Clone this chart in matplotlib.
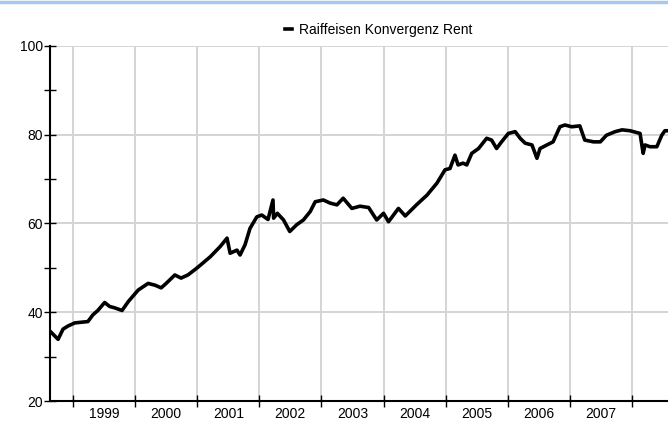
import numpy as np
import matplotlib
matplotlib.use("Agg")
import matplotlib.pyplot as plt
from matplotlib.lines import Line2D

plt.rcParams['font.family'] = ['Liberation Sans', 'DejaVu Sans']

# time as decimal years
years = [1998.64, 1998.76, 1998.84, 1998.92, 1999.03, 1999.24, 1999.32, 1999.40,
         1999.51, 1999.59, 1999.67, 1999.79, 1999.89, 2000.05, 2000.21, 2000.32,
         2000.42, 2000.50, 2000.64, 2000.74, 2000.85, 2000.99, 2001.05, 2001.21,
         2001.37, 2001.48, 2001.53, 2001.64, 2001.69, 2001.77, 2001.85, 2001.96,
         2002.04, 2002.14, 2002.22, 2002.23, 2002.29, 2002.39, 2002.49, 2002.60,
         2002.71, 2002.82, 2002.90, 2003.03, 2003.14, 2003.25, 2003.35, 2003.49,
         2003.62, 2003.76, 2003.89, 2004.00, 2004.08, 2004.24, 2004.35, 2004.53,
         2004.70, 2004.86, 2004.99, 2005.07, 2005.15, 2005.20, 2005.28, 2005.34,
         2005.42, 2005.53, 2005.66, 2005.74, 2005.82, 2005.90, 2006.01, 2006.12,
         2006.20, 2006.28, 2006.39, 2006.47, 2006.52, 2006.63, 2006.73, 2006.84,
         2006.92, 2007.03, 2007.16, 2007.24, 2007.38, 2007.49, 2007.59, 2007.73,
         2007.84, 2007.97, 2008.13, 2008.18, 2008.21, 2008.29, 2008.40, 2008.48,
         2008.53, 2008.58]
values = [35.6, 33.9, 36.2, 36.9, 37.6, 37.9, 39.4, 40.4,
          42.2, 41.3, 41.0, 40.4, 42.4, 45.0, 46.5, 46.1,
          45.5, 46.5, 48.4, 47.7, 48.4, 49.9, 50.6, 52.5,
          54.8, 56.7, 53.3, 54.0, 52.9, 55.2, 58.9, 61.5,
          61.9, 60.9, 65.3, 61.2, 62.3, 60.8, 58.2, 59.7,
          60.8, 62.7, 64.9, 65.3, 64.6, 64.2, 65.7, 63.4,
          63.9, 63.6, 60.8, 62.3, 60.4, 63.4, 61.7, 64.2,
          66.4, 69.1, 72.1, 72.4, 75.4, 73.2, 73.6, 73.2,
          75.8, 76.9, 79.2, 78.8, 76.9, 78.4, 80.3, 80.7,
          79.2, 78.1, 77.7, 74.7, 76.9, 77.7, 78.4, 81.8,
          82.2, 81.8, 82.0, 78.8, 78.4, 78.4, 79.9, 80.7,
          81.1, 80.9, 80.3, 75.8, 77.7, 77.3, 77.3, 79.9,
          80.9, 80.9]
series_name = "Raiffeisen Konvergenz Rent"
year_labels = [1999, 2000, 2001, 2002, 2003, 2004, 2005, 2006, 2007]

fig = plt.figure(figsize=(6.68, 4.23), dpi=100)
ax = fig.add_axes([50 / 668, 1 - 401 / 423, 1 - 50 / 668, (401 - 46) / 423])

ax.plot(years, values, color="black", lw=2.6, label=series_name, zorder=3)

ax.set_xlim(1998.63, 2008.58)
ax.set_ylim(20, 100)

# year boundaries get ticks and gridlines, labels sit in the middle of each year
ax.set_xticks(np.arange(1999, 2009))
ax.set_xticks([y + 0.5 for y in year_labels], minor=True)
ax.set_xticklabels([])
ax.set_xticklabels([str(y) for y in year_labels], minor=True)
ax.tick_params(axis="x", which="major", direction="inout", length=8, width=1)
ax.tick_params(axis="x", which="minor", length=0, pad=4, labelsize=10)

ax.set_yticks([20, 40, 60, 80, 100])
ax.set_yticks([30, 50, 70, 90], minor=True)
ax.tick_params(axis="y", which="both", direction="inout", length=8, width=1,
               labelsize=10, pad=1)

ax.grid(True, which="major", color="#d4d4d4", lw=1.4, zorder=0)
for s in ["top", "right"]:
    ax.spines[s].set_visible(False)
for s in ["left", "bottom"]:
    ax.spines[s].set_linewidth(1.5)

fig.legend(loc="upper center", bbox_to_anchor=(0.567, 0.975), frameon=False,
           handlelength=0.5, handletextpad=0.5, fontsize=10)

# thin light-blue strip along the top
fig.add_artist(Line2D([0, 1], [0.995, 0.995], color="#a9c9ec", lw=2.5,
                      transform=fig.transFigure))

fig.savefig("out.png", dpi=100)
